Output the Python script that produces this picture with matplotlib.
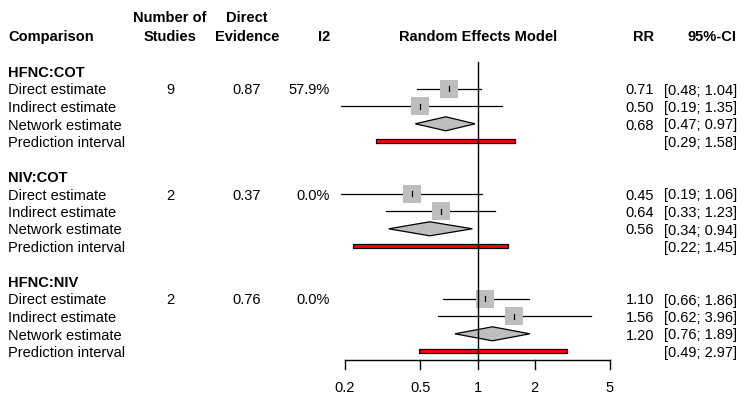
import matplotlib
matplotlib.use("Agg")
import matplotlib.pyplot as plt
from matplotlib.patches import Polygon, Rectangle

plt.rcParams['font.family'] = ['Liberation Sans', 'DejaVu Sans']

# ---- data ----
comparisons = ["HFNC:COT", "NIV:COT", "HFNC:NIV"]
n_studies = ["9", "2", "2"]
direct_evidence = ["0.87", "0.37", "0.76"]
i2 = ["57.9%", "0.0%", "0.0%"]
row_labels = ["Direct estimate", "Indirect estimate", "Network estimate", "Prediction interval"]

direct_rr = [0.71, 0.45, 1.10]
direct_lo = [0.48, 0.19, 0.66]
direct_hi = [1.04, 1.06, 1.86]
indirect_rr = [0.50, 0.64, 1.56]
indirect_lo = [0.19, 0.33, 0.62]
indirect_hi = [1.35, 1.23, 3.96]
network_rr = [0.68, 0.56, 1.20]
network_lo = [0.47, 0.34, 0.76]
network_hi = [0.97, 0.94, 1.89]
pred_lo = [0.29, 0.22, 0.49]
pred_hi = [1.58, 1.45, 2.97]

xticks = [0.2, 0.5, 1, 2, 5]
xtick_labels = ["0.2", "0.5", "1", "2", "5"]

# ---- layout ----
W, H = 750, 407
fig = plt.figure(figsize=(W / 100, H / 100), dpi=100)
tax = fig.add_axes([0, 0, 1, 1])
tax.set_xlim(0, W)
tax.set_ylim(H, 0)
tax.axis('off')

fax = fig.add_axes([345 / W, 0, 265 / W, 1])
fax.set_xscale('log')
fax.set_xlim(0.2, 5)
fax.set_ylim(H, 0)
fax.axis('off')

def center(r):
    return 18.8 + 17.5 * r

def base(r):
    return center(r) + 5.7

FS = 10.5
col_comp = 8
col_n = 170
col_de = 247
col_i2 = 330
col_rr = 654
col_ci = 737
col_rem = 478

# headers
hb1, hb2 = 22, 41
tax.text(col_comp, hb2, "Comparison", fontsize=FS, fontweight='bold', va='baseline', ha='left')
tax.text(col_n, hb1, "Number of", fontsize=FS, fontweight='bold', va='baseline', ha='center')
tax.text(col_n, hb2, "Studies", fontsize=FS, fontweight='bold', va='baseline', ha='center')
tax.text(col_de, hb1, "Direct", fontsize=FS, fontweight='bold', va='baseline', ha='center')
tax.text(col_de, hb2, "Evidence", fontsize=FS, fontweight='bold', va='baseline', ha='center')
tax.text(col_i2, hb2, "I2", fontsize=FS, fontweight='bold', va='baseline', ha='right')
tax.text(col_rem, hb2, "Random Effects Model", fontsize=FS, fontweight='bold', va='baseline', ha='center')
tax.text(col_rr, hb2, "RR", fontsize=FS, fontweight='bold', va='baseline', ha='right')
tax.text(col_ci, hb2, "95%-CI", fontsize=FS, fontweight='bold', va='baseline', ha='right')

grey = '#bebebe'
for g, comp in enumerate(comparisons):
    r0 = 3 + 6 * g
    tax.text(col_comp, base(r0), comp, fontsize=FS, fontweight='bold', va='baseline', ha='left')
    for k, lab in enumerate(row_labels):
        tax.text(col_comp, base(r0 + 1 + k), lab, fontsize=FS, va='baseline', ha='left')
    rd = r0 + 1
    tax.text(col_n, base(rd), n_studies[g], fontsize=FS, va='baseline', ha='center')
    tax.text(col_de, base(rd), direct_evidence[g], fontsize=FS, va='baseline', ha='center')
    tax.text(col_i2, base(rd), i2[g], fontsize=FS, va='baseline', ha='right')

    # estimates with squares
    for k, (est, lo, hi) in enumerate([(direct_rr[g], direct_lo[g], direct_hi[g]),
                                       (indirect_rr[g], indirect_lo[g], indirect_hi[g])]):
        y = center(r0 + 1 + k)
        fax.plot([lo, hi], [y, y], color='black', lw=0.9, zorder=2, clip_on=False)
        fax.plot([est], [y], marker='s', markersize=13, color=grey, markeredgewidth=0,
                 zorder=3, clip_on=False)
        fax.plot([est, est], [y - 2.5, y + 2.5], color='black', lw=0.9, zorder=4)
        tax.text(col_rr, base(r0 + 1 + k), f"{est:.2f}", fontsize=FS, va='baseline', ha='right')
        tax.text(col_ci, base(r0 + 1 + k), f"[{lo:.2f}; {hi:.2f}]", fontsize=FS,
                 va='baseline', ha='right')

    # network diamond
    y = center(r0 + 3)
    dia = Polygon([(network_lo[g], y), (network_rr[g], y - 7), (network_hi[g], y),
                   (network_rr[g], y + 7)], closed=True, facecolor=grey,
                  edgecolor='black', lw=0.9, zorder=3)
    fax.add_patch(dia)
    tax.text(col_rr, base(r0 + 3), f"{network_rr[g]:.2f}", fontsize=FS, va='baseline', ha='right')
    tax.text(col_ci, base(r0 + 3), f"[{network_lo[g]:.2f}; {network_hi[g]:.2f}]", fontsize=FS,
             va='baseline', ha='right')

    # prediction interval
    y = center(r0 + 4)
    rect = Rectangle((pred_lo[g], y - 2), pred_hi[g] - pred_lo[g], 4, facecolor='red',
                     edgecolor='black', lw=0.9, zorder=3)
    fax.add_patch(rect)
    tax.text(col_ci, base(r0 + 4), f"[{pred_lo[g]:.2f}; {pred_hi[g]:.2f}]", fontsize=FS,
             va='baseline', ha='right')

# reference line at 1
fax.plot([1, 1], [62, 360], color='black', lw=1.0, zorder=5, clip_on=False)

# bottom axis
fax.plot([xticks[0], xticks[-1]], [360, 360], color='black', lw=1.0, clip_on=False)
for t, lab in zip(xticks, xtick_labels):
    fax.plot([t, t], [360, 369], color='black', lw=1.0, clip_on=False)
    fax.text(t, 388, lab, fontsize=FS, ha='center', va='center')

fig.savefig("out.png", dpi=100)
